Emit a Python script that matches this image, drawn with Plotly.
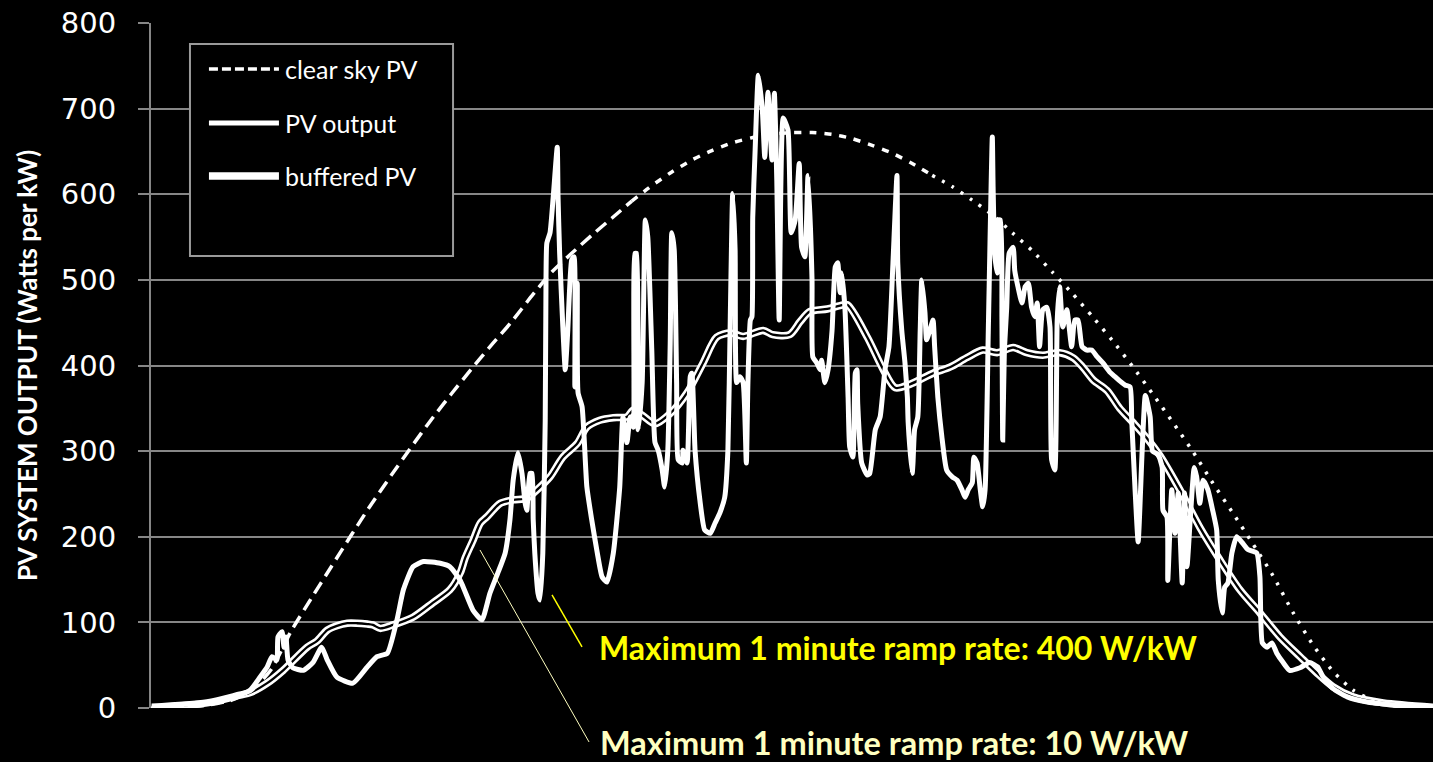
import plotly.graph_objects as go

# ---- data (time of day in hours, output in W per kW) ----
clear_hours = [4.00, 4.25, 4.50, 4.75, 5.00, 5.25, 5.50, 5.75, 6.00, 6.25, 6.50, 6.75,
               7.00, 7.25, 7.50, 7.75, 8.00, 8.25, 8.50, 8.75, 9.00, 9.25, 9.50, 9.75,
               10.00, 10.25, 10.50, 10.75, 11.00, 11.25, 11.50, 11.75, 12.00, 12.25, 12.50, 12.75,
               13.00, 13.25, 13.50, 13.75, 14.00, 14.25, 14.50, 14.75, 15.00, 15.25, 15.50, 15.75,
               16.00, 16.25, 16.50, 16.75, 17.00, 17.25, 17.50, 17.75, 18.00, 18.25, 18.50, 18.75,
               19.00, 19.25, 19.50, 19.75, 20.00]
clear_watts = [0, 0.5, 1.5, 4, 9, 20, 45, 90, 128, 165, 202, 238,
               272, 305, 337, 367, 396, 424, 451, 481, 509, 531, 552, 572,
               592, 610, 626, 640, 651, 660, 666, 670, 672, 672, 670, 665,
               657, 648, 636, 622, 609, 593, 576, 555, 534, 509, 484, 457,
               429, 399, 367, 334, 300, 263, 228, 192, 155, 112, 74, 43,
               21, 9, 3, 1, 0]

pv_hours = [4.01, 4.49, 4.77, 5.07, 5.24, 5.36, 5.45, 5.51, 5.57, 5.585, 5.635, 5.66, 5.685, 5.71,
            5.77, 5.90, 6.02, 6.13, 6.20, 6.32, 6.52, 6.70, 6.82, 6.95, 7.07, 7.15, 7.27, 7.40,
            7.61, 7.73, 7.86, 8.02, 8.13, 8.23, 8.33, 8.42, 8.48, 8.52, 8.58, 8.63, 8.67, 8.69,
            8.73, 8.755, 8.77, 8.79, 8.83, 8.855, 8.89, 8.92, 8.93, 8.94, 8.98, 9.02, 9.07, 9.08,
            9.10, 9.14, 9.17, 9.20, 9.25, 9.28, 9.29, 9.32, 9.33, 9.38, 9.44, 9.50, 9.57, 9.63,
            9.69, 9.77, 9.85, 9.89, 9.94, 9.98, 10.02, 10.04, 10.06, 10.08, 10.13, 10.17, 10.20,
            10.25, 10.29, 10.33, 10.38, 10.41, 10.45, 10.48, 10.50, 10.53, 10.56, 10.58, 10.63,
            10.64, 10.69, 10.73, 10.75, 10.79, 10.85, 10.91, 10.98, 11.04, 11.10, 11.16, 11.20,
            11.23, 11.26, 11.29, 11.31, 11.35, 11.39, 11.43, 11.45, 11.48, 11.50, 11.51, 11.54,
            11.58, 11.63, 11.66, 11.70, 11.75, 11.78, 11.81, 11.84, 11.89, 11.95, 11.99, 12.04,
            12.09, 12.12, 12.16, 12.20, 12.25, 12.26, 12.31, 12.35, 12.37, 12.41, 12.45, 12.50,
            12.54, 12.57, 12.60, 12.62, 12.66, 12.70, 12.72, 12.76, 12.79, 12.81, 12.82, 12.87,
            12.94, 12.97, 13.04, 13.10, 13.16, 13.21, 13.26, 13.31, 13.32, 13.37, 13.41, 13.44,
            13.45, 13.50, 13.51, 13.53, 13.57, 13.60, 13.62, 13.66, 13.68, 13.72, 13.76, 13.78,
            13.82, 13.87, 13.93, 14.00, 14.06, 14.12, 14.16, 14.20, 14.25, 14.27, 14.31, 14.35,
            14.38, 14.41, 14.45, 14.50, 14.51, 14.53, 14.56, 14.57, 14.60, 14.62, 14.63, 14.65,
            14.68, 14.71, 14.76, 14.78, 14.82, 14.87, 14.91, 14.95, 14.99, 15.03, 15.06, 15.09,
            15.13, 15.18, 15.22, 15.24, 15.28, 15.31, 15.34, 15.38, 15.43, 15.49, 15.53, 15.57,
            15.62, 15.68, 15.74, 15.81, 15.88, 15.97, 16.03, 16.09, 16.16, 16.22, 16.24, 16.28,
            16.32, 16.37, 16.41, 16.47, 16.50, 16.57, 16.62, 16.63, 16.68, 16.69, 16.74, 16.78,
            16.82, 16.87, 16.90, 16.93, 16.97, 17.02, 17.05, 17.09, 17.13, 17.19, 17.25, 17.30,
            17.32, 17.37, 17.40, 17.44, 17.49, 17.55, 17.62, 17.69, 17.80, 17.84, 17.87, 17.93,
            17.99, 18.05, 18.13, 18.21, 18.34, 18.46, 18.56, 18.63, 18.75, 18.93, 19.18, 19.59,
            20.00]
pv_watts = [1, 5, 7, 14, 21, 36, 48, 60, 56, 83, 89, 71, 83, 56,
            47, 44, 53, 71, 56, 36, 29, 48, 60, 64, 103, 138, 165, 171,
            169, 165, 149, 114, 103, 134, 158, 181, 220, 266, 298, 274, 239, 231,
            274, 274, 220, 181, 134, 126, 181, 336, 503, 543, 555, 597, 655, 597,
            531, 445, 395, 438, 523, 527, 375, 496, 368, 352, 258, 220, 181, 153,
            147, 181, 258, 340, 310, 340, 328, 531, 531, 325, 380, 570, 550,
            418, 310, 301, 278, 258, 301, 426, 555, 535, 380, 290, 286,
            301, 286, 387, 391, 301, 243, 208, 204, 216, 228, 246, 301,
            457, 601, 535, 380, 387, 380, 286, 380, 453, 457, 573, 652,
            739, 698, 643, 719, 640, 718, 617, 453, 689, 675, 555, 570,
            636, 538, 527, 622, 500, 410, 403, 395, 406, 380, 395, 441,
            515, 520, 485, 508, 468, 363, 305, 293, 391, 395, 356, 286,
            272, 274, 325, 340, 395, 422, 520, 622, 520, 441, 403, 363,
            333, 274, 286, 325, 340, 441, 500, 461, 430, 441, 453, 422,
            363, 317, 278, 270, 266, 255, 246, 255, 263, 293, 286, 255,
            235, 255, 441, 667, 608, 531, 508, 570, 570, 453, 313, 415,
            468, 531, 538, 511, 492, 473, 492, 496, 468, 457, 473, 422,
            465, 468, 445, 290, 278, 453, 492, 445, 465, 422, 453, 453,
            422, 418, 418, 410, 403, 392, 387, 382, 377, 375, 336, 258,
            194, 300, 365, 340, 300, 296, 281, 231, 223, 149, 255, 204,
            251, 146, 251, 165, 220, 281, 270, 239, 266, 255, 231, 208,
            149, 111, 141, 146, 181, 200, 193, 185, 181, 153, 76, 71,
            76, 64, 53, 44, 47, 53, 48, 36, 23, 13, 7, 3,
            1]

buf_hours = [4.01, 4.70, 5.11, 5.24, 5.45, 5.65, 5.95, 6.07, 6.20, 6.32, 6.45, 6.57, 6.70, 6.77,
             6.86, 7.02, 7.27, 7.52, 7.73, 7.86, 7.92, 8.02, 8.11, 8.19, 8.36, 8.52, 8.69, 8.82,
             8.98, 9.14, 9.32, 9.44, 9.60, 9.77, 9.94, 10.02, 10.13, 10.29, 10.48, 10.69, 10.89,
             11.06, 11.23, 11.39, 11.64, 11.76, 11.97, 12.10, 12.22, 12.44, 12.60, 12.69, 12.94,
             13.14, 13.29, 13.47, 13.76, 13.97, 14.18, 14.38, 14.56, 14.76, 14.93, 15.13, 15.34,
             15.51, 15.63, 15.76, 15.93, 16.09, 16.26, 16.43, 16.59, 16.84, 17.09, 17.34, 17.59,
             17.84, 18.09, 18.34, 18.55, 18.75, 19.00, 19.38, 20.00]
buf_watts = [1, 6, 15, 18, 29, 44, 71, 78, 91, 96, 99, 99, 98, 97,
             93, 97, 106, 123, 138, 158, 175, 196, 216, 223, 239, 243, 245, 255,
             270, 293, 309, 328, 336, 339, 340, 348, 342, 332, 344, 368, 403,
             433, 438, 434, 441, 436, 436, 451, 463, 466, 470, 471, 433,
             395, 374, 378, 391, 398, 409, 418, 415, 421, 415, 412, 415,
             409, 398, 383, 371, 350, 333, 315, 295, 255, 211, 173, 138,
             111, 83, 60, 41, 25, 13, 6, 1]

y_ticks = [0, 100, 200, 300, 400, 500, 600, 700, 800]

GRID = "#868686"
FONT = "Lato"

fig = go.Figure()

# buffered PV: a white stroke with a thin black core gives the double-line look
fig.add_trace(go.Scatter(x=buf_hours, y=buf_watts, mode="lines", name="buffered PV",
                         line=dict(color="white", width=7.5, shape="spline", smoothing=0.8),
                         showlegend=False, hoverinfo="skip"))
fig.add_trace(go.Scatter(x=buf_hours, y=buf_watts, mode="lines", name="buffered PV core",
                         line=dict(color="black", width=2.3, shape="spline", smoothing=0.8),
                         showlegend=False, hoverinfo="skip"))

# measured PV output
fig.add_trace(go.Scatter(x=pv_hours, y=pv_watts, mode="lines", name="PV output",
                         line=dict(color="white", width=5, shape="spline", smoothing=0.5),
                         showlegend=False))

# clear-sky curve, dash pattern tightening toward the afternoon
segments = [(4.00, 10.00, "13px,7px"), (10.00, 13.75, "7px,8px"), (13.75, 20.00, "3px,8px")]
for lo, hi, dash in segments:
    xs = [h for h in clear_hours if lo <= h <= hi]
    ys = [w for h, w in zip(clear_hours, clear_watts) if lo <= h <= hi]
    fig.add_trace(go.Scatter(x=xs, y=ys, mode="lines", name="clear sky PV",
                             line=dict(color="white", width=3.5, dash=dash,
                                       shape="spline", smoothing=0.6),
                             showlegend=False))

shapes = []
annotations = []

# legend frame and entries
shapes.append(dict(type="rect", xref="paper", yref="paper", x0=0.0304, x1=0.2356,
                   y0=0.6599, y1=0.9693, line=dict(color="#9a9a9a", width=2),
                   fillcolor="black", layer="above"))
legend_rows = [("clear sky PV", 0.93285, dict(color="white", width=3.5, dash="9px,4px")),
               ("PV output", 0.85401, dict(color="white", width=5)),
               ("buffered PV", 0.77664, dict(color="white", width=7.5))]
for label, ly, ln in legend_rows:
    shapes.append(dict(type="line", xref="paper", yref="paper", x0=0.0452, x1=0.0998,
                       y0=ly, y1=ly, line=ln, layer="above"))
    annotations.append(dict(xref="paper", yref="paper", x=0.1030, y=ly, xanchor="left",
                            yanchor="middle", text=label, showarrow=False,
                            font=dict(family=FONT, size=25, color="white")))

# callouts
shapes.append(dict(type="line", xref="paper", yref="paper", x0=0.3362, y0=0.0891,
                   x1=0.3128, y1=0.1650, line=dict(color="#FFFF00", width=1.5), layer="above"))
shapes.append(dict(type="line", xref="paper", yref="paper", x0=0.3417, y0=-0.0496,
                   x1=0.2566, y1=0.2307, line=dict(color="#FFFFC0", width=1), layer="above"))
annotations.append(dict(xref="paper", yref="paper", x=0.3479, y=0.0876, xanchor="left",
                        yanchor="middle", showarrow=False,
                        text="Maximum 1 minute ramp rate: 400 W/kW",
                        font=dict(family=FONT, size=32, color="#FFFF00", weight="bold")))
annotations.append(dict(xref="paper", yref="paper", x=0.3490, y=-0.0505, xanchor="left",
                        yanchor="middle", showarrow=False,
                        text="Maximum 1 minute ramp rate: 10 W/kW",
                        font=dict(family=FONT, size=32.5, color="#FFFFC0", weight="bold")))

fig.update_layout(
    width=1433, height=762,
    margin=dict(l=151, r=0, t=23, b=54, pad=0),
    paper_bgcolor="black", plot_bgcolor="black",
    showlegend=False,
    shapes=shapes, annotations=annotations,
    xaxis=dict(range=[4, 20], showgrid=False, zeroline=False, showticklabels=False,
               showline=False, ticks=""),
    yaxis=dict(range=[0, 800], tickvals=y_ticks, showgrid=True, gridcolor=GRID, gridwidth=2,
               zeroline=False, showline=True, linecolor=GRID, linewidth=2,
               ticks="outside", ticklen=11, tickwidth=2, tickcolor=GRID,
               ticklabelstandoff=16,
               tickfont=dict(family="DejaVu Sans", size=29, color="white"),
               title=dict(text="PV SYSTEM OUTPUT (Watts per kW)", standoff=16,
                          font=dict(family=FONT, size=26, color="white", weight="bold"))),
)

fig.write_html("out.html")
